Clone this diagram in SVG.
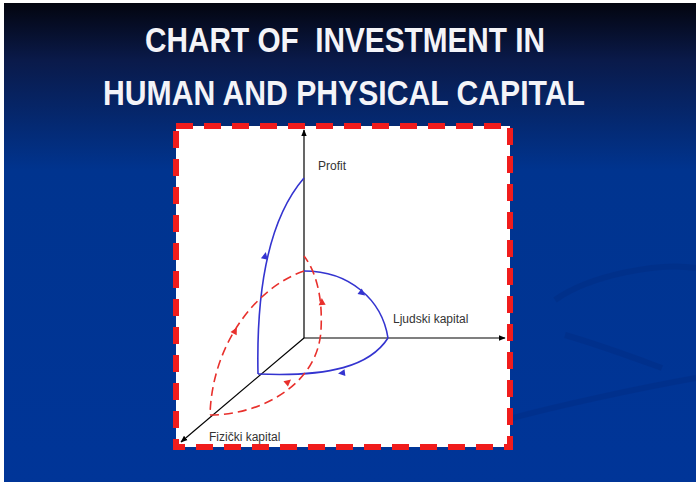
<svg xmlns="http://www.w3.org/2000/svg" width="696" height="483" viewBox="0 0 696 483">
<style>
.title{font-family:"Liberation Sans Narrow","Liberation Sans",Arial,sans-serif;font-size:35px;font-weight:bold;fill:#f4f4f8;text-anchor:middle;white-space:pre}
.lbl{font-family:"Liberation Sans",Arial,sans-serif;font-size:12px;fill:#333333}
.axis{stroke:#000;stroke-width:1.2;fill:none}
.blue{stroke:#3434d0;stroke-width:1.6;fill:none}
.red{stroke:#e8302c;stroke-width:1.6;fill:none;stroke-dasharray:9 5}
.bh{fill:#3434d0}
.rh{fill:#e8302c}
</style>
<defs>
<linearGradient id="bg" x1="0" y1="0" x2="0" y2="1">
<stop offset="0" stop-color="#03050f"/>
<stop offset="0.12" stop-color="#0a1a4a"/>
<stop offset="0.35" stop-color="#00348f"/>
<stop offset="1" stop-color="#003598"/>
</linearGradient>
<marker id="ah" viewBox="0 0 10 10" refX="9" refY="5" markerWidth="7" markerHeight="7" orient="auto" markerUnits="userSpaceOnUse">
<path d="M0,1 L10,5 L0,9 Z" fill="#000"/>
</marker>
</defs>
<rect x="0" y="0" width="696" height="483" fill="#ffffff"/>
<rect x="4" y="3" width="692" height="479" fill="url(#bg)"/>
<g opacity="0.15" stroke="#001a60" fill="none" stroke-width="6">
<path d="M555,300 C590,275 660,262 696,268"/>
<path d="M565,335 C600,345 640,360 662,368"/>
<path d="M505,420 C560,405 640,388 696,378"/>
</g>
<g id="title">
<text class="title" x="345" y="52" textLength="400" lengthAdjust="spacingAndGlyphs" xml:space="preserve">CHART OF  INVESTMENT IN</text>
<text class="title" x="344" y="105" textLength="482" lengthAdjust="spacingAndGlyphs">HUMAN AND PHYSICAL CAPITAL</text>
</g>
<g id="panel">
<rect x="176" y="126" width="334" height="321" fill="#ffffff"/>
<rect x="176" y="126" width="334" height="321" fill="none" stroke="#f01c1c" stroke-width="6" stroke-dasharray="17 11"/>
</g>
<g id="connectors">
<g id="axes">
<line class="axis" x1="304" y1="338" x2="304" y2="130" marker-end="url(#ah)"/>
<line class="axis" x1="304" y1="338" x2="505" y2="338" marker-end="url(#ah)"/>
<line class="axis" x1="304" y1="338" x2="181" y2="442" marker-end="url(#ah)"/>
</g>
<g id="blue-cycle">
<path class="blue" d="M304,178 C272,215 256,280 258,374"/>
<path class="blue" d="M304,271 C350,271 382,300 388,338"/>
<path class="blue" d="M388,338 C370,366 330,377 258,374"/>
<polygon class="bh" points="0,-4 3.5,3 -3.5,3" transform="translate(265,256) rotate(12)"/>
<polygon class="bh" points="0,-4 3.5,3 -3.5,3" transform="translate(362,293) rotate(128)"/>
<polygon class="bh" points="0,-4 3.5,3 -3.5,3" transform="translate(342,373) rotate(-97)"/>
</g>
<g id="red-cycle">
<path class="red" d="M304,271 C255,288 212,345 210,415"/>
<path class="red" d="M210,415 C260,415 318,385 321,330 C323,295 315,270 304,256"/>
<polygon class="rh" points="0,-4 3.5,3 -3.5,3" transform="translate(235,331) rotate(28)"/>
<polygon class="rh" points="0,-4 3.5,3 -3.5,3" transform="translate(322,302) rotate(-3)"/>
<polygon class="rh" points="0,-4 3.5,3 -3.5,3" transform="translate(288,382) rotate(50)"/>
</g>
</g>
<g id="labels">
<text class="lbl" x="318" y="170">Profit</text>
<text class="lbl" x="393" y="323">Ljudski kapital</text>
<text class="lbl" x="209" y="441">Fizički kapital</text>
</g>
</svg>
